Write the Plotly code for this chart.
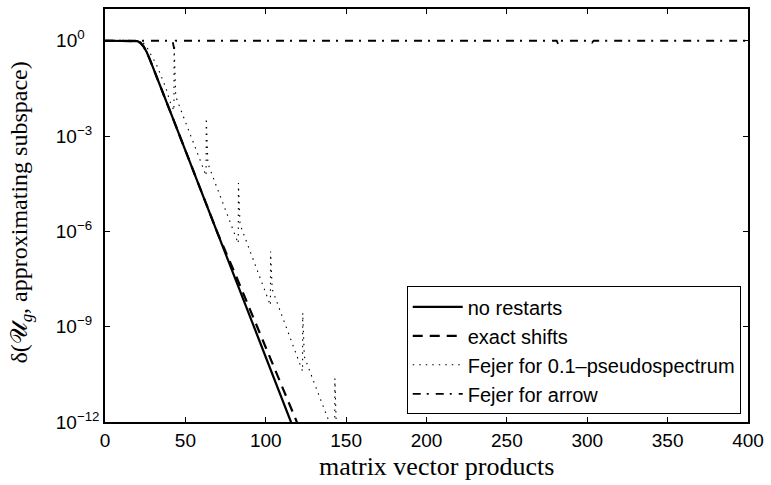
import plotly.graph_objects as go

# ---------------- data (y given as log10 values) ----------------
no_restarts_x = [0, 10, 18, 20, 22, 24, 26, 28, 40, 50, 60, 70, 80, 90, 100, 110, 116]
no_restarts_log10 = [0, 0, 0, -0.01, -0.06, -0.18, -0.36, -0.6, -2.15, -3.45, -4.75,
                     -6.05, -7.35, -8.65, -9.95, -11.25, -12.04]

exact_shifts_x = [0, 10, 18, 20, 22, 24, 26, 28, 40, 50, 60, 70, 80, 90, 100, 110, 120]
exact_shifts_log10 = [0, 0, 0, -0.01, -0.06, -0.18, -0.36, -0.6, -2.15, -3.45, -4.75,
                      -6.05, -7.22, -8.42, -9.62, -10.83, -12.08]

fejer_ps_x = [0, 10, 20, 23, 26, 29, 32, 35, 38, 40.3, 42.9, 43, 44, 47.5, 55, 62.9,
              63, 64, 67, 76, 82.9, 83, 84, 86, 95, 102.9, 103, 104, 108, 115, 122.9,
              123, 124, 130, 140, 142.9, 143, 144, 150]
fejer_ps_log10 = [0, 0, 0, -0.02, -0.2, -0.5, -0.75, -1.12, -1.5, -1.9, -2.2, -0.12,
                  -1.75, -2.22, -3.2, -4.25, -2.43, -3.86, -4.27, -5.5, -6.38, -4.48,
                  -5.78, -6.05, -7.25, -8.33, -6.63, -7.82, -8.37, -9.33, -10.4, -8.57,
                  -9.94, -10.75, -12.05, -12.45, -10.63, -12.3, -13.1]

fejer_arrow_x = [0, 42, 43, 44, 281, 282, 283, 302, 303, 304, 400]
fejer_arrow_log10 = [0, 0, -0.25, 0, 0, -0.12, 0, 0, -0.06, 0, 0]

x_ticks = [0, 50, 100, 150, 200, 250, 300, 350, 400]
y_ticks = [1, 1e-3, 1e-6, 1e-9, 1e-12]
y_tick_text = ["10<sup>0\u00a0\u00a0\u00a0\u00a0</sup>", "10<sup>\u22123\u00a0\u00a0</sup>",
               "10<sup>\u22126\u00a0\u00a0</sup>", "10<sup>\u22129\u00a0\u00a0</sup>",
               "10<sup>\u221212</sup>"]

series_names = ["no restarts", "exact shifts", "Fejer for 0.1\u2013pseudospectrum", "Fejer for arrow"]


def to_val(logs):
    return [10 ** v for v in logs]


fig = go.Figure()
fig.add_trace(go.Scatter(x=no_restarts_x, y=to_val(no_restarts_log10), mode="lines",
                         name=series_names[0], line=dict(color="black", width=2.2)))
fig.add_trace(go.Scatter(x=exact_shifts_x, y=to_val(exact_shifts_log10), mode="lines",
                         name=series_names[1],
                         line=dict(color="black", width=2.2, dash="10px,7px")))
fig.add_trace(go.Scatter(x=fejer_ps_x, y=to_val(fejer_ps_log10), mode="lines",
                         name=series_names[2],
                         line=dict(color="black", width=1.1, dash="1.5px,5px")))
fig.add_trace(go.Scatter(x=fejer_arrow_x, y=to_val(fejer_arrow_log10), mode="lines",
                         name=series_names[3],
                         line=dict(color="black", width=1.8, dash="8px,6px,2px,7px")))

tick_font = dict(family="Liberation Sans, Arial, sans-serif", size=19, color="black")
serif = "Liberation Serif, Times New Roman, serif"

fig.update_layout(
    width=771, height=485, autosize=False,
    margin=dict(l=105, r=21, t=7, b=63),
    paper_bgcolor="white", plot_bgcolor="white",
    showlegend=True,
    legend=dict(x=0.9887, xanchor="right", y=0.0186, yanchor="bottom",
                bgcolor="white", bordercolor="black", borderwidth=1,
                itemwidth=50,
                font=dict(family="Liberation Sans, Arial, sans-serif", size=20, color="black"),
                tracegroupgap=0),
    xaxis=dict(range=[0, 400], tickvals=x_ticks, ticks="inside", ticklen=5, tickwidth=1,
               tickcolor="black", showline=True, linecolor="black", linewidth=1.5,
               mirror="ticks", showgrid=False, zeroline=False, tickfont=tick_font),
    yaxis=dict(type="log", range=[-12, 1], tickvals=y_ticks, ticktext=y_tick_text,
               ticks="inside", ticklen=5, tickwidth=1, tickcolor="black", showline=True,
               linecolor="black", linewidth=1.5, mirror="ticks", showgrid=False,
               zeroline=False, tickfont=tick_font),
    annotations=[
        dict(text="matrix vector products", xref="paper", yref="paper", x=0.516, y=-0.107,
             xanchor="center", yanchor="middle", showarrow=False,
             font=dict(family=serif, size=26, color="black")),
        dict(text="\u03b4(\U0001D4B0<sub><i>g</i></sub>, approximating subspace)",
             xref="paper", yref="paper", x=-0.13, y=0.508, xanchor="center",
             yanchor="middle", textangle=-90, showarrow=False,
             font=dict(family=serif, size=24, color="black")),
    ],
)

fig.write_html("out.html")
